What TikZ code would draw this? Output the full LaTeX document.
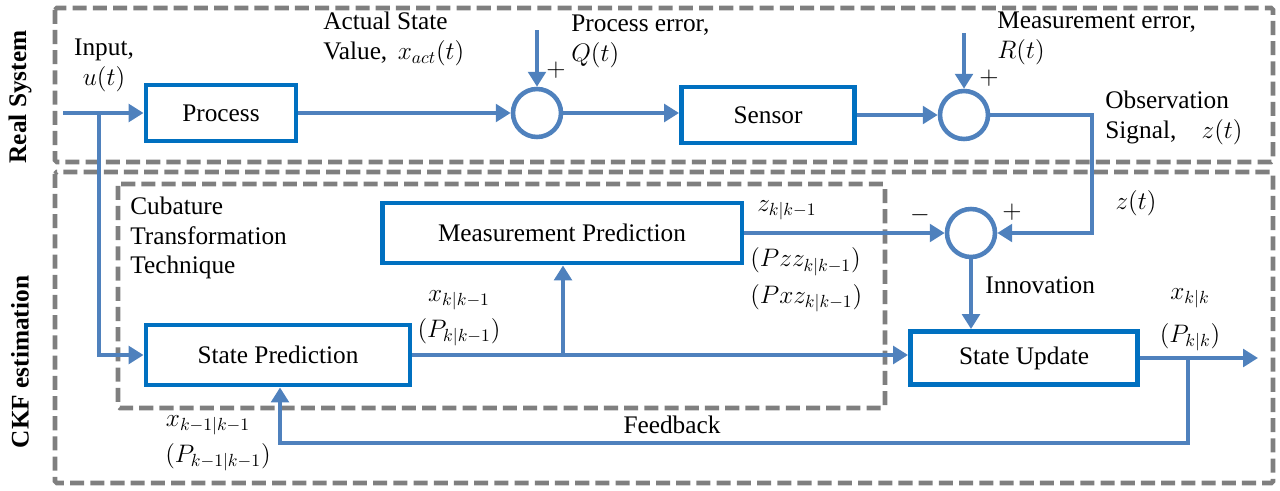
\documentclass[tikz,border=0pt]{standalone}
\usepackage{fontspec}
\setmainfont{Liberation Serif}
\usetikzlibrary{arrows.meta,positioning}
\definecolor{boxblue}{HTML}{0070C0}
\definecolor{lineblue}{HTML}{4F81BD}
\definecolor{framegray}{HTML}{7F7F7F}

\begin{document}
\begin{tikzpicture}[x=0.02cm, y=-0.02cm,
        font=\fontsize{14.4}{17}\selectfont,
        block/.style={draw=boxblue, line width=2.8pt, fill=white, inner sep=0pt},
        sumnode/.style={draw=lineblue, circle, line width=2.6pt, minimum size=0.96cm, inner sep=0pt},
        sig/.style={draw=lineblue, line width=2.6pt, -{Triangle[length=8.5pt, width=10pt]}},
        frame/.style={draw=framegray, line width=2.6pt, dash pattern=on 8pt off 3.5pt, rounded corners=1pt},
        lbl/.style={anchor=west, inner sep=0pt, align=left}]
        \useasboundingbox (0, 0) rectangle (1280, 490);

        \draw [frame] (55, 8) rectangle (1273, 162);
        \draw [frame] (55, 172) rectangle (1273, 483);
        \draw [frame] (118, 184) rectangle (885, 408);

        \node [rotate=90, font=\fontsize{14.4}{17}\selectfont\bfseries] (realsys) at (20, 97) {Real System};
        \node [rotate=90, font=\fontsize{14.4}{17}\selectfont\bfseries] (ckfest) at (20, 362) {CKF estimation};

        \node [block, minimum width=3.0cm, minimum height=1.12cm] (proc) at (221, 113) {Process};
        \node [sumnode] (sum1) at (537, 113) {};
        \node [block, minimum width=3.46cm, minimum height=1.12cm] (sensor) at (768, 115) {Sensor};
        \node [sumnode] (sum2) at (964, 115) {};
        \node [block, minimum width=7.2cm, minimum height=1.2cm] (mpred) at (562, 233) {Measurement Prediction};
        \node [sumnode] (sum3) at (971, 233) {};
        \node [block, minimum width=5.28cm, minimum height=1.2cm] (spred) at (278, 355) {State Prediction};
        \node [block, minimum width=4.54cm, minimum height=1.06cm] (supd) at (1024, 358) {State Update};

        \coordinate (uin) at (63, 113);
        \coordinate (br1) at (99, 113);
        \coordinate (qin) at (537, 30);
        \coordinate (rin) at (964, 33);
        \coordinate (zc) at (1092, 233);
        \coordinate (br2) at (563, 355);
        \coordinate (xout) at (1258, 358);
        \coordinate (fb) at (1188, 358);
        \coordinate (fb1) at (1188, 443);
        \coordinate (fb2) at (280, 443);

        \draw [sig] (uin) -- (proc.west);
        \draw [sig] (br1) |- (spred.west);
        \draw [sig] (proc.east) -- (sum1.west);
        \draw [sig] (qin) -- (sum1.north);
        \draw [sig] (sum1.east) -- (sum1.east -| sensor.west);
        \draw [sig] (sensor.east) -- (sum2.west);
        \draw [sig] (rin) -- (sum2.north);
        \draw [sig] (sum2.east) -| (zc) -- (sum3.east);
        \draw [sig] (mpred.east) -- (sum3.west);
        \draw [sig] (sum3.south) -- (sum3.south |- supd.north);
        \draw [sig] (spred.east) -- (spred.east -| supd.west);
        \draw [sig] (br2) -- (br2 |- mpred.south);
        \draw [sig] (supd.east) -- (xout);
        \draw [sig] (fb) -- (fb1) -- (fb2) -- (fb2 |- spred.south);

        \node [align=center, inner sep=0pt] (uinlbl) at (104, 65) {Input,\\ $u(t)$};
        \node [lbl] (xactlbl) at (323, 39) {Actual State\\ Value,\, $x_{act}(t)$};
        \node [lbl] (qlbl) at (571, 41) {Process error,\\ $Q(t)$};
        \node [inner sep=0pt] (qplus) at (556, 70) {$+$};
        \node [lbl] (rlbl) at (997, 38) {Measurement error,\\ $R(t)$};
        \node [inner sep=0pt] (rplus) at (989, 78) {$+$};
        \node [lbl] (zlbl) at (1105, 118) {Observation\\ Signal,\quad $z(t)$};
        \node [lbl] (cubature) at (130, 238) {Cubature\\ Transformation\\ Technique};
        \node [lbl] (zpred) at (757, 210) {$z_{k|k-1}$};
        \node [lbl] (pzz) at (750, 280) {$(Pzz_{k|k-1})$\\[4pt] $(Pxz_{k|k-1})$};
        \node [inner sep=0pt] (minus) at (920, 215) {$-$};
        \node [inner sep=0pt] (zplus) at (1012, 212) {$+$};
        \node [inner sep=0pt] (zt) at (1136, 203) {$z(t)$};
        \node [lbl] (innov) at (985, 285) {Innovation};
        \node [inner sep=0pt] (xkk) at (1190, 298) {$x_{k|k}$};
        \node [inner sep=0pt] (pkk) at (1190, 337) {$(P_{k|k})$};
        \node [inner sep=0pt] (xpred) at (459, 300) {$x_{k|k-1}$};
        \node [inner sep=0pt] (ppred) at (459, 332) {$(P_{k|k-1})$};
        \node [inner sep=0pt] (xprev) at (208, 425) {$x_{k-1|k-1}$};
        \node [inner sep=0pt] (pprev) at (218, 457) {$(P_{k-1|k-1})$};
        \node [inner sep=0pt] (fblbl) at (672, 425) {Feedback};
\end{tikzpicture}
\end{document}
